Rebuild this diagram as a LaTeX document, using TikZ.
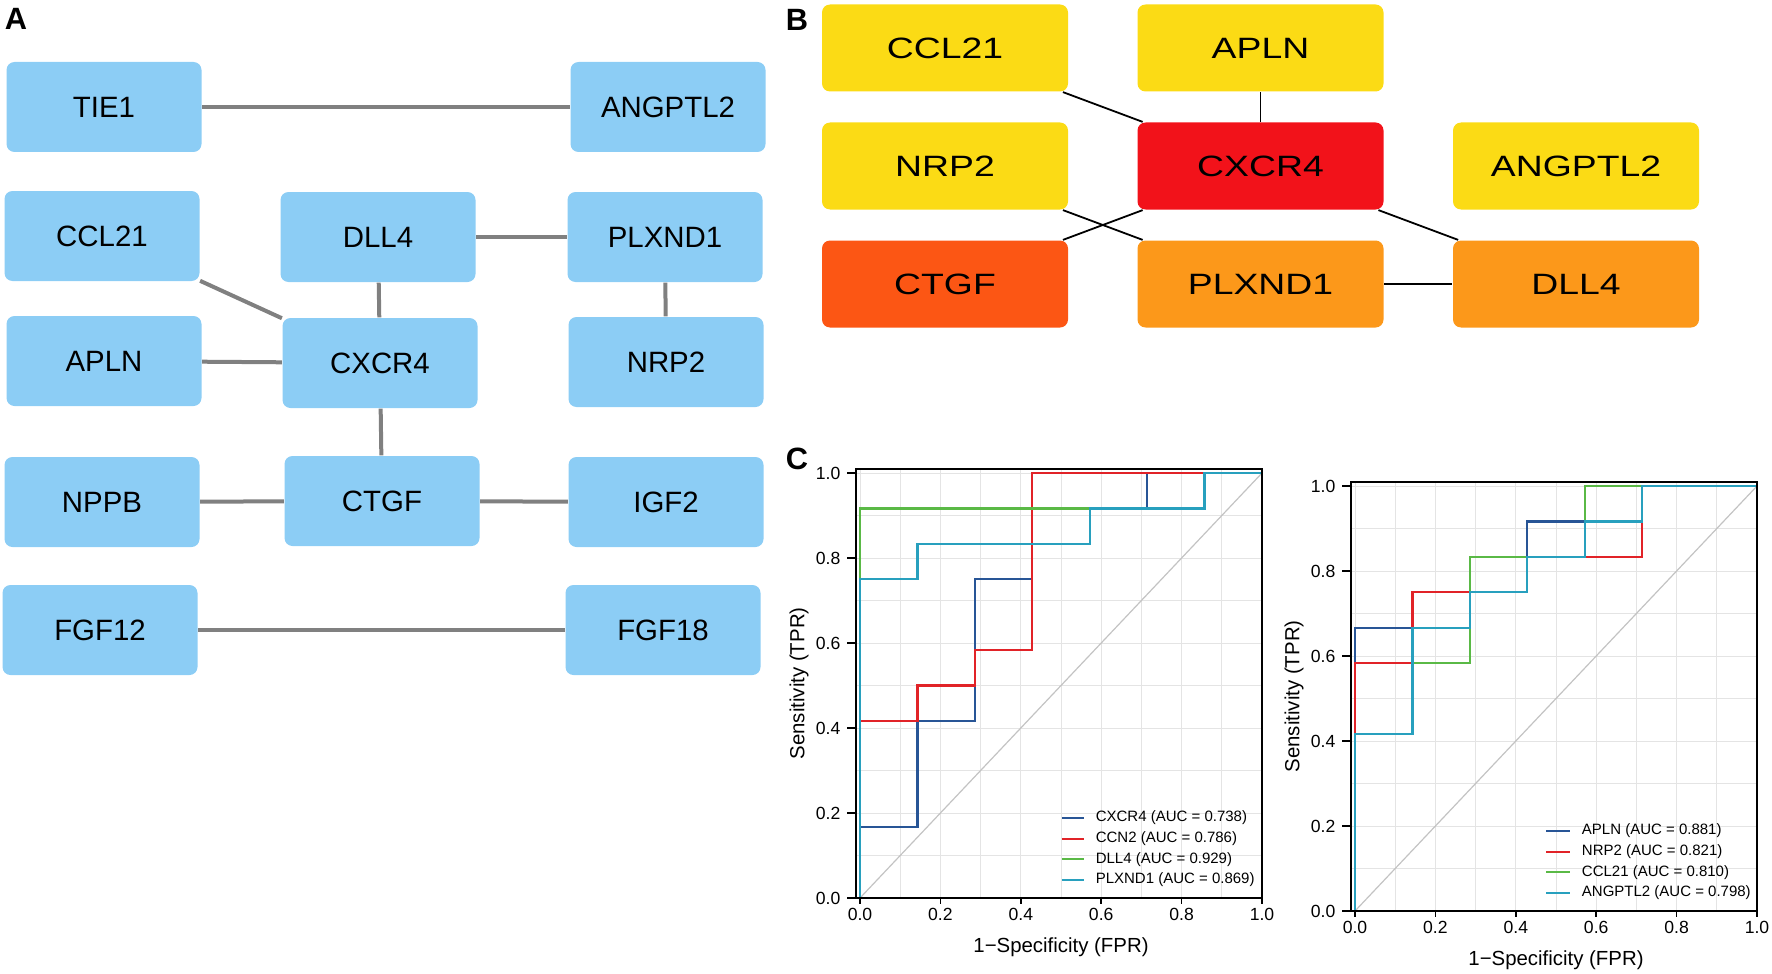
\documentclass[tikz,border=0pt]{standalone}
\usepackage{fontspec}
\setmainfont{Liberation Sans}
\usepackage{graphicx}
\usepackage{tikz}
\usetikzlibrary{arrows,shapes,positioning}
\definecolor{nodeblue}{RGB}{140,205,245}
\definecolor{hubred}{RGB}{242,18,26}
\definecolor{hubyellow}{RGB}{251,219,21}
\definecolor{huborange}{RGB}{252,152,26}
\definecolor{hubdeep}{RGB}{252,86,20}
\definecolor{edgegray}{RGB}{128,128,128}
\definecolor{gridgray}{RGB}{228,228,228}
\definecolor{diaggray}{RGB}{195,195,195}
\definecolor{rocblue}{RGB}{40,85,150}
\definecolor{rocred}{RGB}{225,35,40}
\definecolor{rocgreen}{RGB}{90,185,70}
\definecolor{roccyan}{RGB}{40,160,190}
\newcommand{\wide}[1]{\scalebox{1.27}[1]{#1}}

\begin{document}
\begin{tikzpicture}[x=0.5pt,y=-0.5pt,semithick,node distance=157.75pt]
 \tikzstyle{gene}=[rectangle,rounded corners=4pt,fill=nodeblue,minimum width=97.5pt,minimum height=45pt,inner sep=0pt,font=\fontsize{14.7}{16}\selectfont]
 \tikzstyle{hub}=[rectangle,rounded corners=4pt,minimum width=123pt,minimum height=43.5pt,inner sep=0pt,font=\fontsize{14.7}{16}\selectfont]
 \tikzstyle{panel}=[inner sep=0pt,font=\fontsize{15.4}{17}\selectfont\bfseries]
 \tikzstyle{ticklabel}=[inner sep=0pt,font=\fontsize{8.8}{10}\selectfont]
 \tikzstyle{keytext}=[inner sep=0pt,anchor=west,font=\fontsize{7.5}{8}\selectfont]
 \tikzstyle{axistitle}=[inner sep=0pt,font=\fontsize{10.2}{12}\selectfont]
 \tikzstyle{curve}=[line width=1.1pt]

 \useasboundingbox (0,0) rectangle (1772,974);

 % A: network
 \node[panel] (labA) at (16,19) {A};
 \node[gene] (tie1)    at (104,107) {TIE1};
 \node[gene] (angptl2) at (668,107) {ANGPTL2};
 \node[gene] (ccl21)   at (102,236) {CCL21};
 \node[gene] (dll4)    at (378,237) {DLL4};
 \node[gene] (plxnd1)  at (665,237) {PLXND1};
 \node[gene] (apln)    at (104,361) {APLN};
 \node[gene] (cxcr4)   at (380,363) {CXCR4};
 \node[gene] (nrp2)    at (666,362) {NRP2};
 \node[gene] (nppb)    at (102,502) {NPPB};
 \node[gene] (ctgf)    at (382,501) {CTGF};
 \node[gene] (igf2)    at (666,502) {IGF2};
 \node[gene] (fgf12)   at (100,630) {FGF12};
 \node[gene] (fgf18)   at (663,630) {FGF18};

 \path[draw=edgegray,line width=2pt]
    (tie1) edge (angptl2)
    (dll4) edge (plxnd1)
    (plxnd1) edge (nrp2)
    (ccl21) edge (cxcr4)
    (apln) edge (cxcr4)
    (dll4) edge (cxcr4)
    (cxcr4) edge (ctgf)
    (nppb) edge (ctgf)
    (ctgf) edge (igf2)
    (fgf12) edge (fgf18);

 % B: hub genes
 \node[panel] (labB) at (797,20) {B};
 \node[hub,fill=hubyellow] (bccl21) at (945,48) {\wide{CCL21}};
 \node[hub,fill=hubyellow] (bapln) [right of=bccl21] {\wide{APLN}};
 \node[hub,fill=hubyellow,node distance=59pt] (bnrp2) [below of=bccl21] {\wide{NRP2}};
 \node[hub,fill=hubred] (bcxcr4) [right of=bnrp2] {\wide{CXCR4}};
 \node[hub,fill=hubyellow] (bangptl2) [right of=bcxcr4] {\wide{ANGPTL2}};
 \node[hub,fill=hubdeep,node distance=59pt] (bctgf) [below of=bnrp2] {\wide{CTGF}};
 \node[hub,fill=huborange] (bplxnd1) [right of=bctgf] {\wide{PLXND1}};
 \node[hub,fill=huborange] (bdll4) [right of=bplxnd1] {\wide{DLL4}};

 \path[draw=black,line width=0.9pt]
    (bccl21) edge (bcxcr4)
    (bapln) edge (bcxcr4)
    (bnrp2) edge (bplxnd1)
    (bctgf) edge (bcxcr4)
    (bcxcr4) edge (bdll4)
    (bplxnd1) edge (bdll4);

 % C: ROC curves
 \node[panel] (labC) at (797,459) {C};

 \begin{scope}[shift={(860,898)},x=201pt,y=212.5pt]
  \foreach \g in {0,...,10} {
    \draw[gridgray,line width=0.5pt] (\g/10,0) -- (\g/10,1.01);
    \draw[gridgray,line width=0.5pt] (-0.01,\g/10) -- (1,\g/10);
  }
  \draw[diaggray,line width=0.6pt] (0,0) -- (1,1);
  \draw[curve,rocblue] (0,0) -- (0,2/12) -- (1/7,2/12) -- (1/7,5/12) -- (2/7,5/12) -- (2/7,9/12) -- (3/7,9/12) -- (3/7,11/12) -- (5/7,11/12) -- (5/7,1) -- (1,1);
  \draw[curve,rocred] (0,0) -- (0,5/12) -- (1/7,5/12) -- (1/7,6/12) -- (2/7,6/12) -- (2/7,7/12) -- (3/7,7/12) -- (3/7,1) -- (1,1);
  \draw[curve,rocgreen] (0,0) -- (0,11/12) -- (6/7,11/12) -- (6/7,1) -- (1,1);
  \draw[curve,roccyan] (0,0) -- (0,9/12) -- (1/7,9/12) -- (1/7,10/12) -- (4/7,10/12) -- (4/7,11/12) -- (6/7,11/12) -- (6/7,1) -- (1,1);
  \draw[line width=1.1pt] (-0.01,0) rectangle (1,1.01);
  \foreach \t/\lab in {0/0.0,0.2/0.2,0.4/0.4,0.6/0.6,0.8/0.8,1/1.0} {
    \draw[line width=0.8pt] (\t,0) -- ++(0,-3pt);
    \draw[line width=0.8pt] (-0.01,\t) -- ++(-4.5pt,0);
    \node[ticklabel,anchor=north] at ([yshift=-5pt]\t,0) {\lab};
    \node[ticklabel,anchor=east] at ([xshift=-7.5pt]-0.01,\t) {\lab};
  }
  \node[axistitle] (xtitL) at ([yshift=-24.5pt]0.5,0) {1−Specificity (FPR)};
  \node[axistitle,rotate=90] (ytitL) at ([xshift=-28.5pt]-0.01,0.505) {Sensitivity (TPR)};
  \draw[curve,rocblue] (0.502,0.188) -- (0.558,0.188);
  \node[keytext] (keyL1) at (0.585,0.188) {CXCR4 (AUC = 0.738)};
  \draw[curve,rocred] (0.502,0.1395) -- (0.558,0.1395);
  \node[keytext] (keyL2) at (0.585,0.1395) {CCN2 (AUC = 0.786)};
  \draw[curve,rocgreen] (0.502,0.091) -- (0.558,0.091);
  \node[keytext] (keyL3) at (0.585,0.091) {DLL4 (AUC = 0.929)};
  \draw[curve,roccyan] (0.502,0.0424) -- (0.558,0.0424);
  \node[keytext] (keyL4) at (0.585,0.0424) {PLXND1 (AUC = 0.869)};
 \end{scope}

 \begin{scope}[shift={(1355,911)},x=201pt,y=212.5pt]
  \foreach \g in {0,...,10} {
    \draw[gridgray,line width=0.5pt] (\g/10,0) -- (\g/10,1.01);
    \draw[gridgray,line width=0.5pt] (-0.01,\g/10) -- (1,\g/10);
  }
  \draw[diaggray,line width=0.6pt] (0,0) -- (1,1);
  \draw[curve,rocblue] (0,0) -- (0,8/12) -- (1/7,8/12) -- (1/7,9/12) -- (2/7,9/12) -- (2/7,10/12) -- (3/7,10/12) -- (3/7,11/12) -- (4/7,11/12) -- (4/7,1) -- (1,1);
  \draw[curve,rocred] (0,0) -- (0,7/12) -- (1/7,7/12) -- (1/7,9/12) -- (3/7,9/12) -- (3/7,10/12) -- (5/7,10/12) -- (5/7,1) -- (1,1);
  \draw[curve,rocgreen] (0,0) -- (0,5/12) -- (1/7,5/12) -- (1/7,7/12) -- (2/7,7/12) -- (2/7,10/12) -- (4/7,10/12) -- (4/7,1) -- (1,1);
  \draw[curve,roccyan] (0,0) -- (0,5/12) -- (1/7,5/12) -- (1/7,8/12) -- (2/7,8/12) -- (2/7,9/12) -- (3/7,9/12) -- (3/7,10/12) -- (4/7,10/12) -- (4/7,11/12) -- (5/7,11/12) -- (5/7,1) -- (1,1);
  \draw[line width=1.1pt] (-0.01,0) rectangle (1,1.01);
  \foreach \t/\lab in {0/0.0,0.2/0.2,0.4/0.4,0.6/0.6,0.8/0.8,1/1.0} {
    \draw[line width=0.8pt] (\t,0) -- ++(0,-3pt);
    \draw[line width=0.8pt] (-0.01,\t) -- ++(-4.5pt,0);
    \node[ticklabel,anchor=north] at ([yshift=-5pt]\t,0) {\lab};
    \node[ticklabel,anchor=east] at ([xshift=-7.5pt]-0.01,\t) {\lab};
  }
  \node[axistitle] (xtitR) at ([yshift=-24.5pt]0.5,0) {1−Specificity (FPR)};
  \node[axistitle,rotate=90] (ytitR) at ([xshift=-28.5pt]-0.01,0.505) {Sensitivity (TPR)};
  \draw[curve,rocblue] (0.476,0.188) -- (0.534,0.188);
  \node[keytext] (keyR1) at (0.563,0.188) {APLN (AUC = 0.881)};
  \draw[curve,rocred] (0.476,0.1395) -- (0.534,0.1395);
  \node[keytext] (keyR2) at (0.563,0.1395) {NRP2 (AUC = 0.821)};
  \draw[curve,rocgreen] (0.476,0.091) -- (0.534,0.091);
  \node[keytext] (keyR3) at (0.563,0.091) {CCL21 (AUC = 0.810)};
  \draw[curve,roccyan] (0.476,0.0424) -- (0.534,0.0424);
  \node[keytext] (keyR4) at (0.563,0.0424) {ANGPTL2 (AUC = 0.798)};
 \end{scope}
\end{tikzpicture}
\end{document}
